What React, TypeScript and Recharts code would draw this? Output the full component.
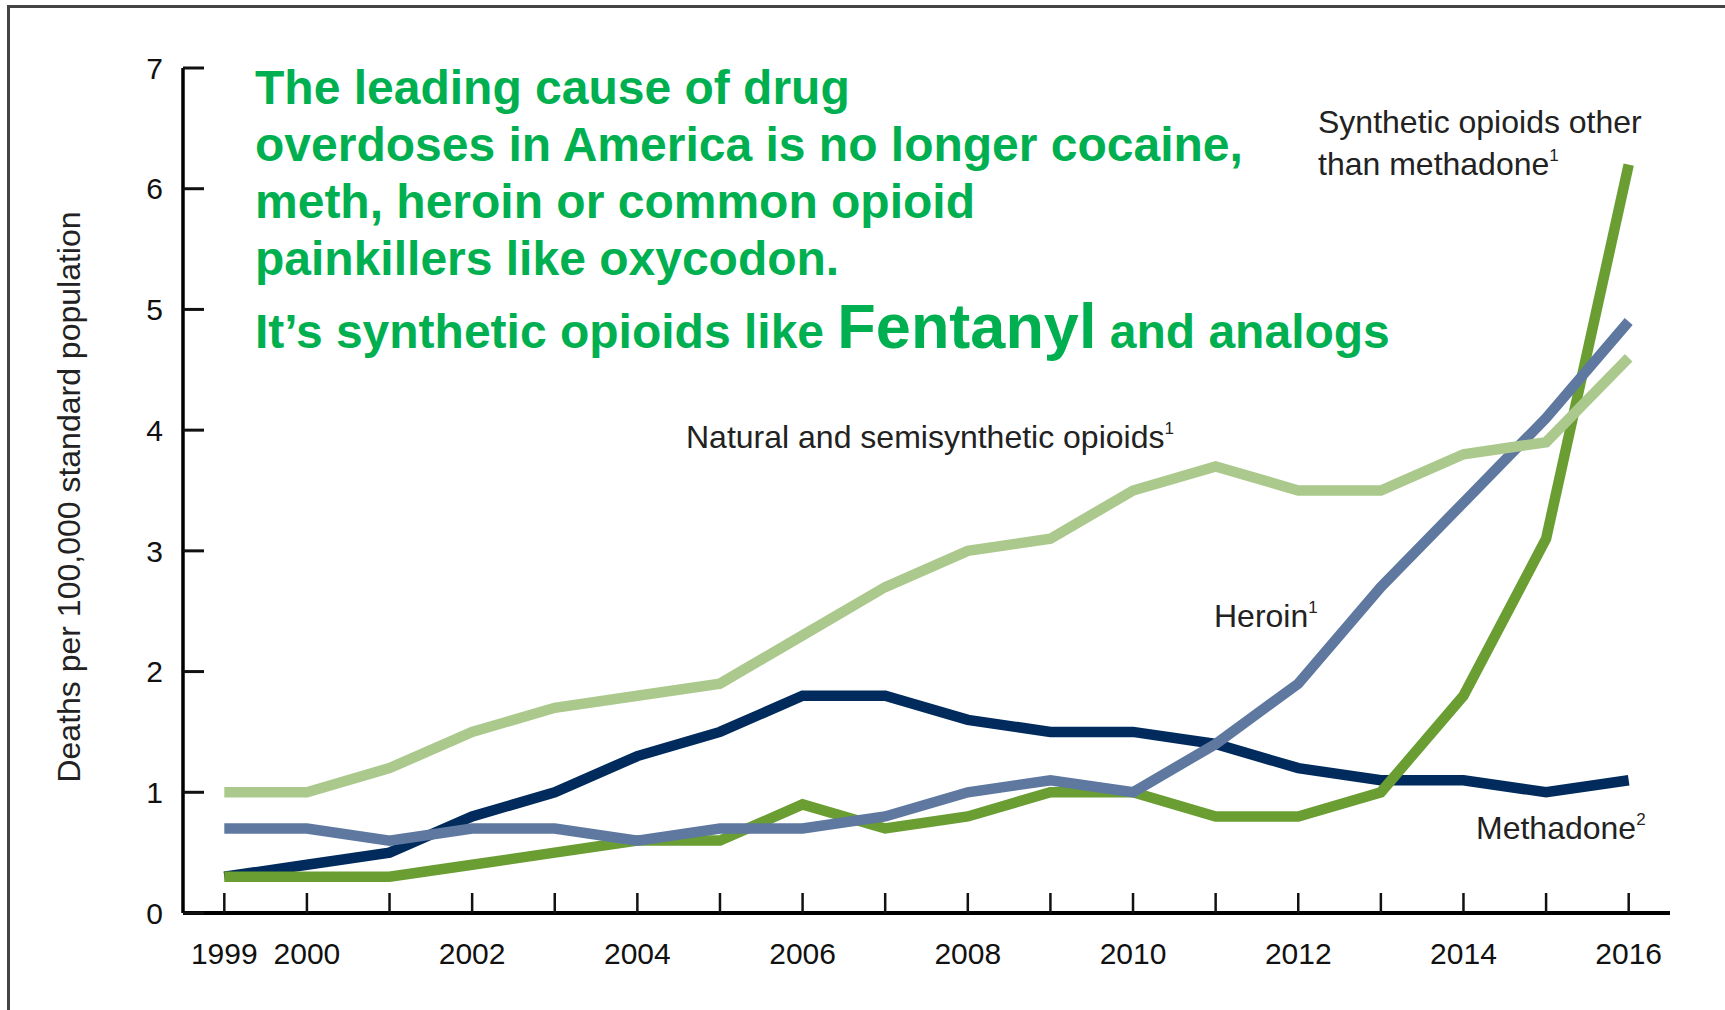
import { Line, LineChart, XAxis, YAxis } from "recharts";

const years = [
  1999, 2000, 2001, 2002, 2003, 2004, 2005, 2006, 2007, 2008, 2009, 2010, 2011,
  2012, 2013, 2014, 2015, 2016,
];
const natural = [
  1.0, 1.0, 1.2, 1.5, 1.7, 1.8, 1.9, 2.3, 2.7, 3.0, 3.1, 3.5, 3.7, 3.5, 3.5,
  3.8, 3.9, 4.6,
];
const methadone = [
  0.3, 0.4, 0.5, 0.8, 1.0, 1.3, 1.5, 1.8, 1.8, 1.6, 1.5, 1.5, 1.4, 1.2, 1.1,
  1.1, 1.0, 1.1,
];
const heroin = [
  0.7, 0.7, 0.6, 0.7, 0.7, 0.6, 0.7, 0.7, 0.8, 1.0, 1.1, 1.0, 1.4, 1.9, 2.7,
  3.4, 4.1, 4.9,
];
const synthetic = [
  0.3, 0.3, 0.3, 0.4, 0.5, 0.6, 0.6, 0.9, 0.7, 0.8, 1.0, 1.0, 0.8, 0.8, 1.0,
  1.8, 3.1, 6.2,
];
const yearLabels = [1999, 2000, 2002, 2004, 2006, 2008, 2010, 2012, 2014, 2016];
const yTicks = [0, 1, 2, 3, 4, 5, 6, 7];

const data = years.map((year, i) => ({
  year,
  natural: natural[i],
  methadone: methadone[i],
  heroin: heroin[i],
  synthetic: synthetic[i],
}));

const FONT = "'Liberation Sans', Arial, sans-serif";
const GREEN = "#00B050";
const LABEL = "#222";
const LINE_W = 10.5;

export default function App() {
  return (
    <div style={{ position: "absolute", left: 0, top: 0, width: 1725, height: 1010, background: "#fff" }}>
      <div
        style={{
          position: "absolute",
          left: 7,
          top: 5,
          width: 1718,
          height: 1005,
          borderTop: "3px solid #444",
          borderLeft: "3px solid #444",
          boxSizing: "border-box",
        }}
      />
      <div style={{ position: "absolute", left: 0, top: 0 }}>
        <LineChart
          width={1725}
          height={1010}
          data={data}
          margin={{ top: 68, right: 55, bottom: 37, left: 123 }}
        >
          <XAxis
            dataKey="year"
            type="number"
            domain={[1998.5, 2016.5]}
            ticks={years}
            interval={0}
            height={60}
            tickFormatter={(v: number) => (yearLabels.includes(v) ? String(v) : "")}
            axisLine={{ stroke: "#000", strokeWidth: 4 }}
            tickLine={{ stroke: "#111", strokeWidth: 2.5 }}
            tickSize={-20}
            tickMargin={50}
            tick={{ fill: "#111", fontSize: 30, fontFamily: FONT }}
          />
          <YAxis
            domain={[0, 7]}
            ticks={yTicks}
            interval={0}
            width={60}
            axisLine={{ stroke: "#000", strokeWidth: 3.5 }}
            tickLine={{ stroke: "#111", strokeWidth: 3 }}
            tickSize={-21}
            tickMargin={41}
            tick={{ fill: "#111", fontSize: 30, fontFamily: FONT }}
          />
          <Line
            dataKey="methadone"
            stroke="#002B5C"
            strokeWidth={LINE_W}
            dot={false}
            isAnimationActive={false}
          />
          <Line
            dataKey="synthetic"
            stroke="#6A9E33"
            strokeWidth={LINE_W}
            dot={false}
            isAnimationActive={false}
          />
          <Line
            dataKey="heroin"
            stroke="#5F78A0"
            strokeWidth={LINE_W}
            dot={false}
            isAnimationActive={false}
          />
          <Line
            dataKey="natural"
            stroke="#ABC98C"
            strokeWidth={LINE_W}
            dot={false}
            isAnimationActive={false}
          />
        </LineChart>
      </div>
      <svg
        width={1725}
        height={1010}
        style={{ position: "absolute", left: 0, top: 0, pointerEvents: "none" }}
        fontFamily={FONT}
      >
        <text
          x={69}
          y={497}
          transform="rotate(-90 69 497)"
          textAnchor="middle"
          dominantBaseline="central"
          fontSize={32}
          fill={LABEL}
        >
          Deaths per 100,000 standard population
        </text>

        <g fill={GREEN} fontWeight="bold" fontSize={48}>
          <text x={255} y={104}>The leading cause of drug</text>
          <text x={255} y={161}>overdoses in America is no longer cocaine,</text>
          <text x={255} y={218}>meth, heroin or common opioid</text>
          <text x={255} y={275}>painkillers like oxycodon.</text>
          <text x={255} y={348}>
            It’s synthetic opioids like <tspan fontSize={63}>Fentanyl</tspan> and analogs
          </text>
        </g>

        <g fill={LABEL} fontSize={32}>
          <text x={1318} y={133}>Synthetic opioids other</text>
          <text x={1318} y={175}>
            than methadone<tspan fontSize={17} dy={-14}>1</tspan>
          </text>
          <text x={686} y={448}>
            Natural and semisynthetic opioids<tspan fontSize={17} dy={-14}>1</tspan>
          </text>
          <text x={1214} y={627}>
            Heroin<tspan fontSize={17} dy={-14}>1</tspan>
          </text>
          <text x={1476} y={839}>
            Methadone<tspan fontSize={17} dy={-14}>2</tspan>
          </text>
        </g>
      </svg>
    </div>
  );
}
